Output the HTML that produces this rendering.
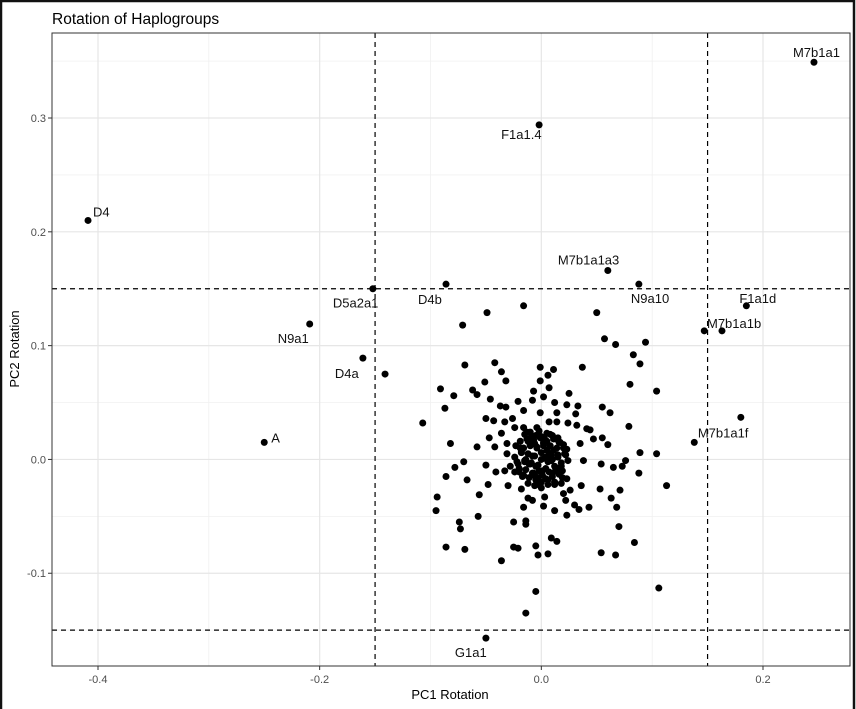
<!DOCTYPE html>
<html><head><meta charset="utf-8"><style>
html,body{margin:0;padding:0;background:#fff;}
body{width:856px;height:709px;overflow:hidden;}
svg{display:block;font-family:"Liberation Sans",Arial,sans-serif;}
</style></head><body>
<svg id="chart" width="856" height="709" viewBox="0 0 856 709">
<rect x="0" y="0" width="856" height="709" fill="#fff"/>
<rect x="1" y="1" width="853" height="720" fill="none" stroke="#111" stroke-width="2.5"/>
<text x="52" y="24" font-size="15.5" fill="#000">Rotation of Haplogroups</text>
<g id="grid"></g><g id="refs"></g><g id="pts"></g><g id="lbls"></g><g id="axes"></g>
<text x="450" y="699" font-size="13" fill="#000" text-anchor="middle">PC1 Rotation</text>
<text transform="translate(19,349) rotate(-90)" font-size="13" fill="#000" text-anchor="middle">PC2 Rotation</text>
</svg>
<script>
const xTicks=[-0.4,-0.2,0.0,0.2];
const xTickLabels=["-0.4","-0.2","0.0","0.2"];
const yTicks=[-0.1,0.0,0.1,0.2,0.3];
const yTickLabels=["-0.1","0.0","0.1","0.2","0.3"];
const xMinor=[-0.3,-0.1,0.1];
const yMinor=[-0.15,-0.05,0.05,0.15,0.25,0.35];
const cutoffs=[-0.15,0.15];
const labelNames=["M7b1a1","F1a1.4","D4","G1a1","M7b1a1a3","N9a10","F1a1d","M7b1a1b","M7b1a1f","D5a2a1","D4b","N9a1","D4a","A"];
const labelX=[0.246,-0.002,-0.409,-0.050,0.060,0.088,0.185,0.163,0.180,-0.152,-0.086,-0.209,-0.161,-0.250];
const labelY=[0.349,0.294,0.210,-0.157,0.166,0.154,0.135,0.113,0.037,0.150,0.154,0.119,0.089,0.015];
const otherX=[-0.016,-0.049,-0.071,0.050,0.057,0.067,0.094,0.083,0.089,0.037,-0.069,-0.042,-0.036,-0.032,-0.001,0.011,0.006,-0.001,0.007,-0.007,-0.051,-0.091,-0.079,-0.062,-0.058,-0.046,0.080,0.104,-0.107,-0.087,-0.082,-0.021,-0.008,0.002,0.012,0.025,0.023,0.033,0.055,0.062,0.079,-0.037,-0.032,-0.016,-0.001,0.014,0.031,-0.050,-0.043,-0.026,-0.033,0.014,0.024,0.007,0.032,0.041,0.044,0.047,0.055,0.060,0.035,-0.036,-0.024,-0.016,-0.004,-0.047,-0.058,-0.042,-0.031,-0.031,0.138,0.104,0.089,0.076,0.073,0.065,0.054,0.038,0.088,0.113,-0.070,-0.078,-0.086,-0.067,-0.050,-0.041,-0.048,-0.030,-0.018,-0.033,-0.024,-0.028,-0.094,-0.095,-0.056,-0.057,-0.074,-0.073,-0.025,-0.014,-0.014,-0.016,-0.012,-0.008,0.003,0.002,0.012,0.018,0.023,0.036,0.020,0.026,0.022,0.030,0.034,0.043,0.012,0.023,0.053,0.071,0.063,0.068,0.070,0.084,0.054,0.067,0.009,0.014,0.006,-0.005,-0.003,-0.025,-0.021,-0.036,-0.069,-0.086,-0.005,-0.014,0.106,0.147,-0.141];
const otherY=[0.135,0.129,0.118,0.129,0.106,0.101,0.103,0.092,0.084,0.081,0.083,0.085,0.077,0.069,0.081,0.079,0.074,0.069,0.063,0.060,0.068,0.062,0.056,0.061,0.057,0.053,0.066,0.060,0.032,0.045,0.014,0.051,0.052,0.055,0.050,0.058,0.048,0.047,0.046,0.041,0.029,0.047,0.046,0.043,0.041,0.041,0.040,0.036,0.034,0.036,0.033,0.033,0.032,0.033,0.030,0.027,0.026,0.018,0.019,0.013,0.014,0.023,0.028,0.028,0.028,0.019,0.011,0.011,0.014,0.005,0.015,0.005,0.006,-0.001,-0.006,-0.007,-0.004,-0.001,-0.012,-0.023,-0.002,-0.007,-0.015,-0.018,-0.005,-0.011,-0.022,-0.023,-0.026,-0.010,-0.011,-0.006,-0.033,-0.045,-0.031,-0.050,-0.055,-0.061,-0.055,-0.054,-0.057,-0.042,-0.034,-0.036,-0.033,-0.041,-0.022,-0.021,-0.017,-0.023,-0.030,-0.027,-0.036,-0.040,-0.044,-0.042,-0.045,-0.049,-0.026,-0.027,-0.034,-0.042,-0.059,-0.073,-0.082,-0.084,-0.069,-0.072,-0.083,-0.076,-0.084,-0.077,-0.078,-0.089,-0.079,-0.077,-0.116,-0.135,-0.113,0.113,0.075];
const coreX=[0,0.005,-0.005,0.010,-0.010,0.015,-0.015,0.020,-0.020,0.003,-0.003,0.008,-0.008,0.012,-0.012,0.018,-0.018,0.001,0.006,-0.006,0.011,-0.011,0.004,-0.004,0.016,-0.016,0.009,-0.009,0.002,-0.002,0.014,-0.014,0.022,-0.022,0.007,-0.007,0.013,-0.013,0.019,-0.019,0.000,0.004,-0.004,0.010,-0.010,0.006,-0.006,0.002,
-0.024,-0.021,-0.018,-0.015,-0.012,-0.009,-0.006,-0.003,0.000,0.003,0.006,0.009,0.012,0.015,0.018,0.021,0.024,
-0.023,-0.019,-0.016,-0.013,-0.010,-0.007,-0.004,-0.001,0.002,0.005,0.008,0.011,0.014,0.017,0.020,0.023,
-0.020,-0.017,-0.014,-0.011,-0.008,-0.005,-0.002,0.001,0.004,0.007,0.010,0.013,0.016,0.019,
-0.015,-0.010,-0.005,0.000,0.005,0.010,0.015,-0.012,-0.006,0.000,0.006,0.012];
const coreY=[0.000,0.008,-0.006,-0.012,0.012,0.004,-0.002,0.010,-0.008,0.018,-0.016,0.022,0.003,-0.020,0.016,-0.006,0.006,-0.010,-0.018,0.014,0.008,-0.004,0.002,-0.022,0.015,-0.014,-0.001,0.020,0.012,0.025,-0.010,0.000,0.004,-0.002,0.005,-0.012,0.018,0.024,-0.016,0.010,-0.025,-0.008,0.010,0.000,-0.004,0.002,-0.014,0.015,
0.002,-0.004,0.007,-0.001,0.005,-0.003,0.003,-0.005,0.006,0.001,-0.002,0.004,-0.006,0.002,-0.003,0.005,-0.001,
0.012,0.016,0.010,0.018,0.013,0.017,0.011,0.019,0.014,0.016,0.012,0.018,0.010,0.015,0.013,0.009,
-0.011,-0.015,-0.009,-0.016,-0.012,-0.018,-0.010,-0.014,-0.017,-0.011,-0.015,-0.008,-0.013,-0.010,
0.022,0.024,0.021,0.020,0.023,0.021,0.019,-0.021,-0.023,-0.020,-0.022,-0.020];

const P={l:52,r:850,t:33,b:666};
const xDom=[-0.4415,0.2785], yDom=[-0.1815,0.3747];
const sx=v=>P.l+(v-xDom[0])/(xDom[1]-xDom[0])*(P.r-P.l);
const sy=v=>P.b-(v-yDom[0])/(yDom[1]-yDom[0])*(P.b-P.t);
const NS="http://www.w3.org/2000/svg";
function mk(tag,attrs,parent){const e=document.createElementNS(NS,tag);for(const k in attrs)e.setAttribute(k,attrs[k]);parent.appendChild(e);return e;}
const grid=document.getElementById('grid'),refs=document.getElementById('refs'),pts=document.getElementById('pts'),lbls=document.getElementById('lbls'),axes=document.getElementById('axes');
xMinor.forEach(v=>{const e=mk('line',{x1:sx(v),x2:sx(v),y1:P.t,y2:P.b,stroke:'#f0f0f0','stroke-width':0.8},grid);

});
yMinor.forEach(v=>{const e=mk('line',{x1:P.l,x2:P.r,y1:sy(v),y2:sy(v),stroke:'#f0f0f0','stroke-width':0.8},grid);

});
xTicks.forEach(v=>{const e=mk('line',{x1:sx(v),x2:sx(v),y1:P.t,y2:P.b,stroke:'#e6e6e6','stroke-width':1.2},grid);

});
yTicks.forEach(v=>{const e=mk('line',{x1:P.l,x2:P.r,y1:sy(v),y2:sy(v),stroke:'#e6e6e6','stroke-width':1.2},grid);

});
cutoffs.forEach(v=>{
 const a=mk('line',{x1:sx(v),x2:sx(v),y1:P.t,y2:P.b,stroke:'#000','stroke-width':1.2,'stroke-dasharray':'5,4'},refs);
 
 
 const b=mk('line',{x1:P.l,x2:P.r,y1:sy(v),y2:sy(v),stroke:'#000','stroke-width':1.2,'stroke-dasharray':'5,4'},refs);
 
 
});
function dot(x,y,name){const c=mk('circle',{cx:sx(x),cy:sy(y),r:3.5,fill:'#000'},pts);

}
coreX.forEach((v,i)=>dot(v,coreY[i],'core-point'));
otherX.forEach((v,i)=>dot(v,otherY[i],'haplogroup-point'));
const off=[[-21,-9],[-38,10],[5,-8],[-31,15],[-50,-10],[-8,15],[-7,-7],[-15,-7],[-43,16],[-40,15],[-28,16],[-32,15],[-28,16],[7,-4]];
labelX.forEach((v,i)=>{dot(v,labelY[i],'labeled-point');
 const t=mk('text',{x:sx(v)+off[i][0],y:sy(labelY[i])+off[i][1]+4,'font-size':13,fill:'#111'},lbls);
 t.textContent=labelNames[i];
 
 });
const fr=mk('rect',{x:P.l,y:P.t,width:P.r-P.l,height:P.b-P.t,fill:'none',stroke:'#333','stroke-width':1},axes);


xTicks.forEach((v,i)=>{mk('line',{x1:sx(v),x2:sx(v),y1:P.b,y2:P.b+4,stroke:'#333'},axes);
 const t=mk('text',{x:sx(v),y:P.b+17,'font-size':11,fill:'#4d4d4d','text-anchor':'middle'},axes);
 t.textContent=xTickLabels[i];
 
 });
yTicks.forEach((v,i)=>{mk('line',{x1:P.l-4,x2:P.l,y1:sy(v),y2:sy(v),stroke:'#333'},axes);
 const t=mk('text',{x:P.l-6,y:sy(v)+4,'font-size':11,fill:'#4d4d4d','text-anchor':'end'},axes);
 t.textContent=yTickLabels[i];
 
 });
</script>
</body></html>
